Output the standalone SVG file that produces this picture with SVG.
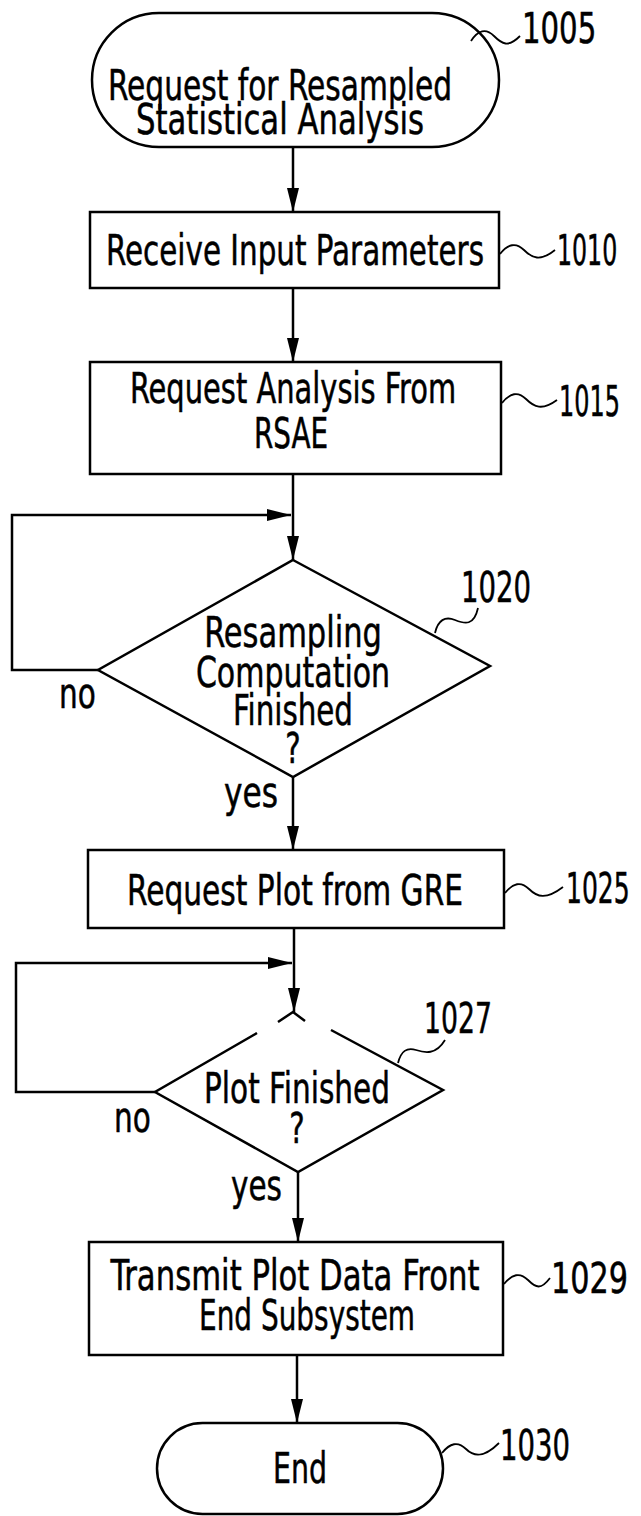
<svg xmlns="http://www.w3.org/2000/svg" width="641" height="1516" viewBox="0 0 641 1516">
<style>
.shape{fill:#fff;stroke:#000;stroke-width:2.5}
.line{fill:none;stroke:#000;stroke-width:2.5}
.lead{fill:none;stroke:#000;stroke-width:1.8}
text{font-family:"DejaVu Sans Condensed","DejaVu Sans","Liberation Sans",sans-serif;font-stretch:condensed;font-size:43px;fill:#000;stroke:#000;stroke-width:0.5}
.c{text-anchor:middle}
.num{font-size:42px}
</style>
<defs>
<marker id="ah" markerUnits="userSpaceOnUse" markerWidth="24" markerHeight="12" refX="24" refY="6" orient="auto">
<path d="M0,0 L24,6 L0,12 Z" fill="#000"/>
</marker>
</defs>
<rect width="641" height="1516" fill="#fff"/>

<g id="connectors">
<path class="line" d="M293,147 V212" marker-end="url(#ah)"/>
<path class="line" d="M293,288 V362" marker-end="url(#ah)"/>
<path class="line" d="M293,474 V560" marker-end="url(#ah)"/>
<path class="line" d="M98,670 H12 V515 H291" marker-end="url(#ah)"/>
<path class="line" d="M293,777 V850" marker-end="url(#ah)"/>
<path class="line" d="M294,928 V1012" marker-end="url(#ah)"/>
<path class="line" d="M155,1092 H16 V963 H292" marker-end="url(#ah)"/>
<path class="line" d="M298,1172 V1242" marker-end="url(#ah)"/>
<path class="line" d="M297,1355 V1423" marker-end="url(#ah)"/>
</g>

<g id="n1005">
<rect class="shape" x="92" y="13" width="407" height="134" rx="67"/>
<text class="c" transform="translate(280,100) scale(0.75,1)" textLength="459" lengthAdjust="spacingAndGlyphs">Request for Resampled</text>
<text class="c" transform="translate(280,134) scale(0.75,1)" textLength="384" lengthAdjust="spacingAndGlyphs">Statistical Analysis</text>
<path class="lead" d="M471,41 C478,30 486,28 494,36 S508,48 520,36"/>
<text class="num" transform="translate(522,43) scale(0.7,1)" textLength="106" lengthAdjust="spacingAndGlyphs">1005</text>
</g>

<g id="n1010">
<rect class="shape" x="90" y="212" width="409" height="76"/>
<text class="c" transform="translate(295,265) scale(0.75,1)" textLength="504" lengthAdjust="spacingAndGlyphs">Receive Input Parameters</text>
<path class="lead" d="M500,254 C508,244 516,242 524,250 S540,262 555,250"/>
<text class="num" transform="translate(557,265) scale(0.7,1)" textLength="86" lengthAdjust="spacingAndGlyphs">1010</text>
</g>

<g id="n1015">
<rect class="shape" x="90" y="362" width="411" height="112"/>
<text class="c" transform="translate(293,403) scale(0.75,1)" textLength="435" lengthAdjust="spacingAndGlyphs">Request Analysis From</text>
<text class="c" transform="translate(291,448) scale(0.75,1)" textLength="99" lengthAdjust="spacingAndGlyphs">RSAE</text>
<path class="lead" d="M502,403 C510,393 518,391 526,399 S542,411 557,400"/>
<text class="num" transform="translate(559,416) scale(0.7,1)" textLength="87" lengthAdjust="spacingAndGlyphs">1015</text>
</g>

<g id="n1020">
<polygon class="shape" points="293,560 490,666 293,777 98,670"/>
<text class="c" transform="translate(293,647) scale(0.75,1)" textLength="237" lengthAdjust="spacingAndGlyphs">Resampling</text>
<text class="c" transform="translate(293,687) scale(0.75,1)" textLength="259" lengthAdjust="spacingAndGlyphs">Computation</text>
<text class="c" transform="translate(293,725) scale(0.75,1)" textLength="160" lengthAdjust="spacingAndGlyphs">Finished</text>
<text class="c" transform="translate(293,763) scale(0.75,1)">?</text>
<path class="lead" d="M435,633 C438,620 445,616 455,620 S474,626 478,608"/>
<text class="num" transform="translate(461,602) scale(0.7,1)" textLength="100" lengthAdjust="spacingAndGlyphs">1020</text>
<text transform="translate(59,708) scale(0.75,1)" textLength="49" lengthAdjust="spacingAndGlyphs">no</text>
<text transform="translate(224,807) scale(0.75,1)" textLength="72" lengthAdjust="spacingAndGlyphs">yes</text>
</g>

<g id="n1025">
<rect class="shape" x="88" y="850" width="416" height="78"/>
<text class="c" transform="translate(295,905) scale(0.75,1)" textLength="448" lengthAdjust="spacingAndGlyphs">Request Plot from GRE</text>
<path class="lead" d="M505,893 C513,883 521,881 529,889 S546,900 563,887"/>
<text class="num" transform="translate(566,903) scale(0.7,1)" textLength="91" lengthAdjust="spacingAndGlyphs">1025</text>
</g>

<g id="n1027">
<path class="line" d="M278,1022 L293,1012 L305,1021"/>
<path class="line" d="M257,1033 L155,1092 L298,1172 L443,1090 L331,1030"/>
<text class="c" transform="translate(297,1103) scale(0.75,1)" textLength="248" lengthAdjust="spacingAndGlyphs">Plot Finished</text>
<text class="c" transform="translate(297,1143) scale(0.75,1)">?</text>
<path class="lead" d="M398,1063 C401,1051 407,1047 416,1050 S436,1055 445,1040"/>
<text class="num" transform="translate(424,1033) scale(0.7,1)" textLength="97" lengthAdjust="spacingAndGlyphs">1027</text>
<text transform="translate(114,1132) scale(0.75,1)" textLength="49" lengthAdjust="spacingAndGlyphs">no</text>
<text transform="translate(231,1200) scale(0.75,1)" textLength="68" lengthAdjust="spacingAndGlyphs">yes</text>
</g>

<g id="n1029">
<rect class="shape" x="89" y="1242" width="414" height="113"/>
<text class="c" transform="translate(295,1290) scale(0.75,1)" textLength="492" lengthAdjust="spacingAndGlyphs">Transmit Plot Data Front</text>
<text class="c" transform="translate(307,1330) scale(0.75,1)" textLength="288" lengthAdjust="spacingAndGlyphs">End Subsystem</text>
<path class="lead" d="M504,1284 C512,1274 520,1272 528,1280 S541,1290 550,1278"/>
<text class="num" transform="translate(551,1293) scale(0.7,1)" textLength="110" lengthAdjust="spacingAndGlyphs">1029</text>
</g>

<g id="n1030">
<rect class="shape" x="157" y="1423" width="286" height="91" rx="45.5"/>
<text class="c" transform="translate(300,1483) scale(0.75,1)" textLength="72" lengthAdjust="spacingAndGlyphs">End</text>
<path class="lead" d="M442,1453 C450,1443 458,1441 466,1449 S484,1458 499,1443"/>
<text class="num" transform="translate(500,1460) scale(0.7,1)" textLength="100" lengthAdjust="spacingAndGlyphs">1030</text>
</g>
</svg>
